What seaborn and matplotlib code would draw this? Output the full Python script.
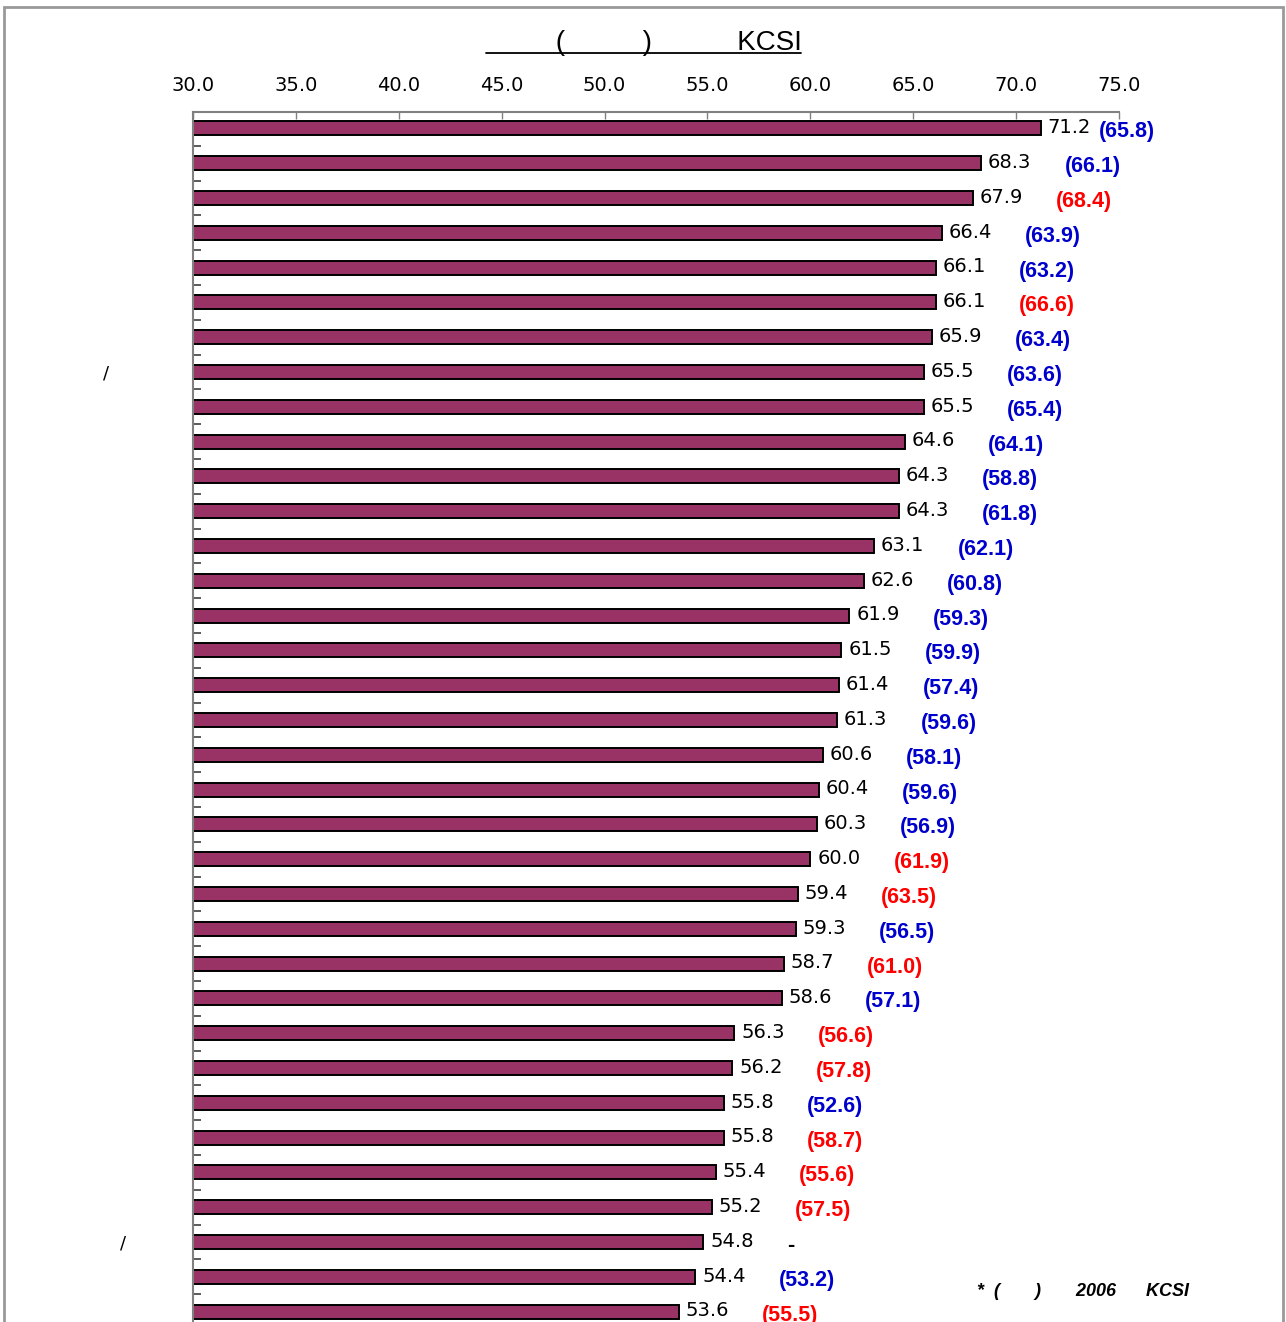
import numpy as np
import pandas as pd
import matplotlib
matplotlib.use("Agg")
import matplotlib.pyplot as plt
from matplotlib.lines import Line2D
from matplotlib.patches import Rectangle
import seaborn as sns

# current year score and last year's score (None = no score last year)
values = [71.2, 68.3, 67.9, 66.4, 66.1, 66.1, 65.9, 65.5, 65.5, 64.6,
          64.3, 64.3, 63.1, 62.6, 61.9, 61.5, 61.4, 61.3, 60.6, 60.4,
          60.3, 60.0, 59.4, 59.3, 58.7, 58.6, 56.3, 56.2, 55.8, 55.8,
          55.4, 55.2, 54.8, 54.4, 53.6]
prev = [65.8, 66.1, 68.4, 63.9, 63.2, 66.6, 63.4, 63.6, 65.4, 64.1,
        58.8, 61.8, 62.1, 60.8, 59.3, 59.9, 57.4, 59.6, 58.1, 59.6,
        56.9, 61.9, 63.5, 56.5, 61.0, 57.1, 56.6, 57.8, 52.6, 58.7,
        55.6, 57.5, None, 53.2, 55.5]
# category names (only the "/" glyphs survive in the source)
labels = [""] * 35
labels[7] = "/   "
labels[32] = "/"
x_ticks = [30.0, 35.0, 40.0, 45.0, 50.0, 55.0, 60.0, 65.0, 70.0, 75.0]
title_text = "         (          )           KCSI"
note_text = "*  (       )       2006      KCSI"

BAR = "#993366"
BLUE = "#0000CC"
RED = "#FF0000"
GRAY = "#808080"

sns.set_theme(style="white")
plt.rcParams["font.family"] = ["DejaVu Sans"]
plt.rcParams["text.color"] = "black"
plt.rcParams["xtick.color"] = "black"
plt.rcParams["ytick.color"] = "black"

df = pd.DataFrame({"key": [str(i) for i in range(len(values))], "score": values})

W, H = 1286, 1322
fig = plt.figure(figsize=(W / 100, H / 100), dpi=100)
ax = fig.add_axes([193 / W, 0, (1119 - 193) / W, 1 - 112 / H])

sns.barplot(data=df, x="score", y="key", order=df["key"], orient="h",
            color=BAR, saturation=1, width=0.4, edgecolor="black",
            linewidth=1.4, ax=ax)

ax.set_xticks(x_ticks)
ax.set_xticklabels([f"{t:.1f}" for t in x_ticks], fontsize=14)
ax.xaxis.tick_top()
ax.tick_params(axis="x", direction="in", length=5, width=1, color=GRAY, pad=12)
ax.set_yticks(range(len(labels)))
ax.set_yticklabels(labels, fontsize=13)
ax.tick_params(axis="y", which="major", length=0, pad=48)
ax.set_yticks(np.arange(0.5, len(values), 1.0), minor=True)
ax.tick_params(axis="y", which="minor", direction="in", length=6, width=1.2,
               color="#404040", left=True)
# limits after the ticks, set_yticks would widen them again
ax.set_xlim(30, 75)
ax.set_ylim(34.3, -0.47)
ax.set_xlabel("")
ax.set_ylabel("")
for side in ["right", "bottom"]:
    ax.spines[side].set_visible(False)
for side in ["top", "left"]:
    ax.spines[side].set_color(GRAY)
    ax.spines[side].set_linewidth(1.5)
ax.grid(False)

for i, (v, p) in enumerate(zip(values, prev)):
    ax.annotate(f"{v:.1f}", (v, i), xytext=(5, 0.5), textcoords="offset points",
                ha="left", va="center", fontsize=14, color="black")
    gap = 42 if i == 0 else 60
    if p is None:
        txt, col = "-", "black"
    else:
        txt, col = f"({p:.1f})", BLUE if v >= p else RED
    ax.annotate(txt, (v, i), xytext=(gap, -2.5), textcoords="offset points",
                ha="left", va="center", fontsize=15.5, fontweight="bold",
                color=col, family="Liberation Sans", annotation_clip=False)

# title with underline
fig.text(486 / W, 1 - 50 / H, title_text, ha="left",
         va="baseline", fontsize=20, family="Liberation Sans")
fig.add_artist(Line2D([486 / W, 801 / W], [1 - 53 / H, 1 - 53 / H],
                      color="black", linewidth=1.3))

fig.text(977 / W, 1 - 1296 / H, note_text, ha="left", va="baseline",
         fontsize=13, fontstyle="italic", fontweight="bold",
         family="Liberation Sans")

# outer frame
fig.add_artist(Rectangle((4 / W, -0.05), (1283 - 4) / W, 1.05 - 7 / H,
                         fill=False, edgecolor="#999999", linewidth=2,
                         transform=fig.transFigure))

fig.savefig("out.png", dpi=100)
plt.close(fig)
